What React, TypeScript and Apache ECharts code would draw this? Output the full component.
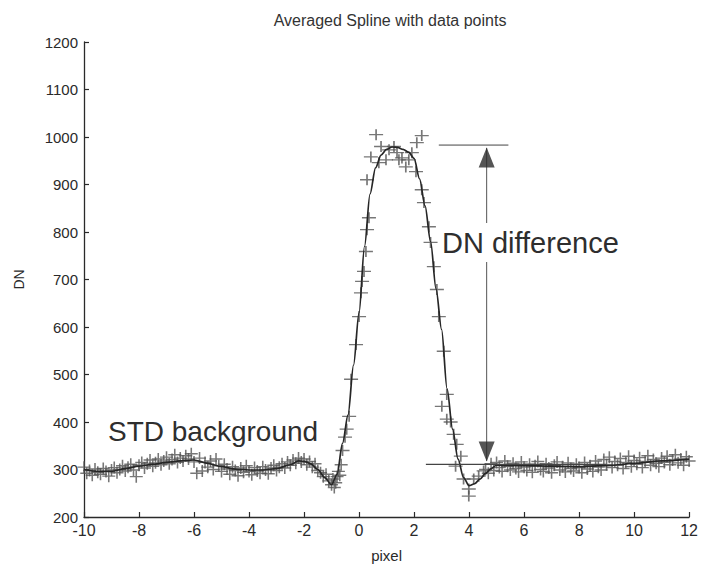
import React, { useEffect, useRef } from "react";
import * as echarts from "echarts";

// Data points ("+" markers): background left, peak, background right
const bgLeftX = [-10.0,-9.9,-9.8,-9.7,-9.6,-9.5,-9.4,-9.3,-9.2,-9.1,-9.0,-8.9,-8.8,-8.7,-8.6,-8.5,-8.4,-8.3,-8.2,-8.1,-8.0,-7.9,-7.8,-7.7,-7.6,-7.5,-7.4,-7.3,-7.2,-7.1,-7.0,-6.9,-6.8,-6.7,-6.6,-6.5,-6.4,-6.3,-6.2,-6.1,-6.0,-5.9,-5.8,-5.7,-5.6,-5.5,-5.4,-5.3,-5.2,-5.1,-5.0,-4.9,-4.8,-4.7,-4.6,-4.5,-4.4,-4.3,-4.2,-4.1,-4.0,-3.9,-3.8,-3.7,-3.6,-3.5,-3.4,-3.3,-3.2,-3.1,-3.0,-2.9,-2.8,-2.7,-2.6,-2.5,-2.4,-2.3,-2.2,-2.1,-2.0,-1.9,-1.8,-1.7,-1.6,-1.5,-1.4,-1.3,-1.2,-1.1,-1.0,-0.95,-0.9,-0.85,-0.8,-0.75,-0.7,-0.65];
const bgLeftY = [305,292,298,288,301,294,290,302,296,286,299,304,293,300,308,297,305,311,299,285,309,315,303,312,320,307,314,322,310,318,326,312,321,331,315,324,318,329,322,333,316,292,324,297,315,305,318,300,322,308,296,311,301,290,306,298,287,303,294,308,296,289,304,297,292,306,299,291,303,309,298,305,312,303,316,309,320,313,324,316,322,310,317,305,312,298,293,285,290,276,268,280,262,272,285,296,288,310];

const peakX = [-0.6,-0.51,-0.45,-0.36,-0.29,-0.11,0.0,0.07,0.11,0.18,0.25,0.29,0.36,0.29,0.43,0.62,0.8,0.72,0.98,1.09,1.27,1.38,1.45,1.56,1.7,1.81,1.92,2.1,2.28,2.07,2.28,2.36,2.54,2.6,2.72,2.83,2.9,3.08,3.19,3.01,3.19,3.33,3.44,3.55,3.7,3.51,3.8,3.99,3.99,4.17,4.35,4.53];
const peakY = [340,368,385,412,490,563,622,672,696,717,759,805,830,910,958,1005,980,946,952,973,980,967,952,956,937,952,967,988,1003,927,889,862,811,778,727,679,622,549,458,433,406,400,374,353,328,307,280,259,244,280,286,297];

const bgRightX = [4.6,4.7,4.8,4.9,5.0,5.1,5.2,5.3,5.4,5.5,5.6,5.7,5.8,5.9,6.0,6.1,6.2,6.3,6.4,6.5,6.6,6.7,6.8,6.9,7.0,7.1,7.2,7.3,7.4,7.5,7.6,7.7,7.8,7.9,8.0,8.1,8.2,8.3,8.4,8.5,8.6,8.7,8.8,8.9,9.0,9.1,9.2,9.3,9.4,9.5,9.6,9.7,9.8,9.9,10.0,10.1,10.2,10.3,10.4,10.5,10.6,10.7,10.8,10.9,11.0,11.1,11.2,11.3,11.4,11.5,11.6,11.7,11.8,11.9,12.0];
const bgRightY = [300,292,312,298,315,304,296,318,307,299,313,302,295,316,305,298,311,294,308,317,300,296,312,303,293,309,316,299,306,295,314,302,297,311,304,293,315,301,308,296,318,305,299,321,310,326,304,317,309,323,302,315,328,306,319,311,325,304,317,329,309,321,313,306,324,315,328,310,320,331,314,322,309,327,318];

// Averaged spline
const splineX = [-10,-9.5,-9,-8.5,-8,-7.5,-7,-6.5,-6,-5.5,-5,-4.5,-4,-3.5,-3,-2.5,-2.2,-2,-1.75,-1.5,-1.25,-1,-0.8,-0.6,-0.4,-0.2,0,0.2,0.4,0.6,0.8,1,1.2,1.4,1.6,1.8,2,2.2,2.4,2.6,2.8,3,3.2,3.4,3.6,3.8,4,4.2,4.4,4.6,4.8,5,6,7,8,9,10,11,12];
const splineY = [300,296,296,302,307,311,315,318,320,313,306,301,299,299,302,310,318,317,312,300,283,268,290,355,415,520,630,770,880,935,962,974,979,978,974,968,955,912,855,780,680,595,470,385,322,283,266,270,280,292,302,309,308,307,306,308,313,318,322];

// Annotation lines (DN difference)
const topRefX = [2.9, 5.43];
const topRefY = [983, 983];
const bottomRefX = [2.43, 9];
const bottomRefY = [311, 311];
const arrowX = [4.64, 4.64];
const arrowY = [318, 977];
const arrowHeadY = [957, 338];
const arrowHeadRot = [0, 180];

const xTicks = { min: -10, max: 12, interval: 2 };
const yTicks = { min: 200, max: 1200, interval: 100 };

const FONT = "Liberation Sans, Arial, sans-serif";
const plus = "path://M0,5L10,5M5,0L5,10";

export default function App() {
  const ref = useRef<HTMLDivElement>(null);
  useEffect(() => {
    if (!ref.current) return;
    const chart = echarts.init(ref.current, null, { renderer: "svg" });
    const pts = (xs: number[], ys: number[]) => xs.map((x, i) => [x, ys[i]]);
    const markerStyle = { color: "rgba(0,0,0,0)", borderColor: "#555", borderWidth: 1.5 };
    chart.setOption({
      animation: false,
      backgroundColor: "#ffffff",
      title: {
        text: "Averaged Spline with data points",
        left: 385,
        top: 7,
        textAlign: "center",
        textStyle: { fontFamily: FONT, fontSize: 16, fontWeight: "normal", color: "#333" },
      },
      grid: { left: 84, right: 10, top: 42, bottom: 50 },
      xAxis: {
        type: "value",
        min: xTicks.min,
        max: xTicks.max,
        interval: xTicks.interval,
        name: "pixel",
        nameLocation: "middle",
        nameGap: 31,
        nameTextStyle: { fontFamily: FONT, fontSize: 15, color: "#2a2a2a" },
        axisLine: { onZero: false, lineStyle: { color: "#2a2a2a", width: 1.3 } },
        axisTick: { inside: true, length: 5, lineStyle: { color: "#2a2a2a", width: 1.2 } },
        axisLabel: { fontFamily: FONT, fontSize: 16, color: "#2a2a2a", margin: 5 },
        splitLine: { show: false },
      },
      yAxis: {
        type: "value",
        min: yTicks.min,
        max: yTicks.max,
        interval: yTicks.interval,
        name: "DN",
        nameLocation: "middle",
        nameGap: 58,
        nameRotate: 90,
        nameTextStyle: { fontFamily: FONT, fontSize: 14, color: "#2a2a2a" },
        axisLine: { show: true, onZero: false, lineStyle: { color: "#2a2a2a", width: 1.3 } },
        axisTick: { show: true, inside: true, length: 5, lineStyle: { color: "#2a2a2a", width: 1.2 } },
        axisLabel: { fontFamily: FONT, fontSize: 15, color: "#2a2a2a", margin: 6, formatter: (v: number) => String(v) },
        splitLine: { show: false },
      },
      series: [
        {
          type: "scatter",
          data: pts(bgLeftX, bgLeftY),
          symbol: plus,
          symbolSize: [13, 12],
          itemStyle: markerStyle,
          z: 2,
        },
        {
          type: "scatter",
          data: pts(peakX, peakY),
          symbol: plus,
          symbolSize: [14, 11],
          itemStyle: markerStyle,
          z: 2,
        },
        {
          type: "scatter",
          data: pts(bgRightX, bgRightY),
          symbol: plus,
          symbolSize: [13, 12],
          itemStyle: markerStyle,
          z: 2,
        },
        {
          type: "line",
          data: pts(splineX, splineY),
          smooth: 0.3,
          smoothMonotone: "x",
          showSymbol: false,
          lineStyle: { color: "#262626", width: 1.7 },
          z: 3,
        },
        {
          type: "line",
          data: pts(topRefX, topRefY),
          showSymbol: false,
          lineStyle: { color: "#444", width: 1 },
          z: 3,
        },
        {
          type: "line",
          data: pts(bottomRefX, bottomRefY),
          showSymbol: false,
          lineStyle: { color: "#444", width: 1.2 },
          z: 3,
        },
        {
          type: "line",
          data: pts(arrowX, arrowY),
          showSymbol: false,
          lineStyle: { color: "#555", width: 1 },
          z: 3,
        },
        {
          type: "scatter",
          data: arrowHeadY.map((y, i) => ({ value: [arrowX[0], y], symbolRotate: arrowHeadRot[i] })),
          symbol: "triangle",
          symbolSize: [16, 20],
          itemStyle: { color: "#2a2a2a" },
          z: 4,
        },
      ],
      graphic: [
        {
          type: "text",
          left: 439,
          top: 223,
          z: 10,
          style: {
            text: "DN difference",
            fontFamily: FONT,
            fontSize: 29,
            fill: "#2e2e2e",
            backgroundColor: "#ffffff",
            padding: [5, 3, 5, 3],
          },
        },
        {
          type: "text",
          left: 108,
          top: 417,
          z: 10,
          style: { text: "STD background", fontFamily: FONT, fontSize: 28, fill: "#2e2e2e" },
        },
      ],
    });
    return () => chart.dispose();
  }, []);
  return <div ref={ref} style={{ position: "absolute", left: 0, top: 0, width: 701, height: 568 }} />;
}
